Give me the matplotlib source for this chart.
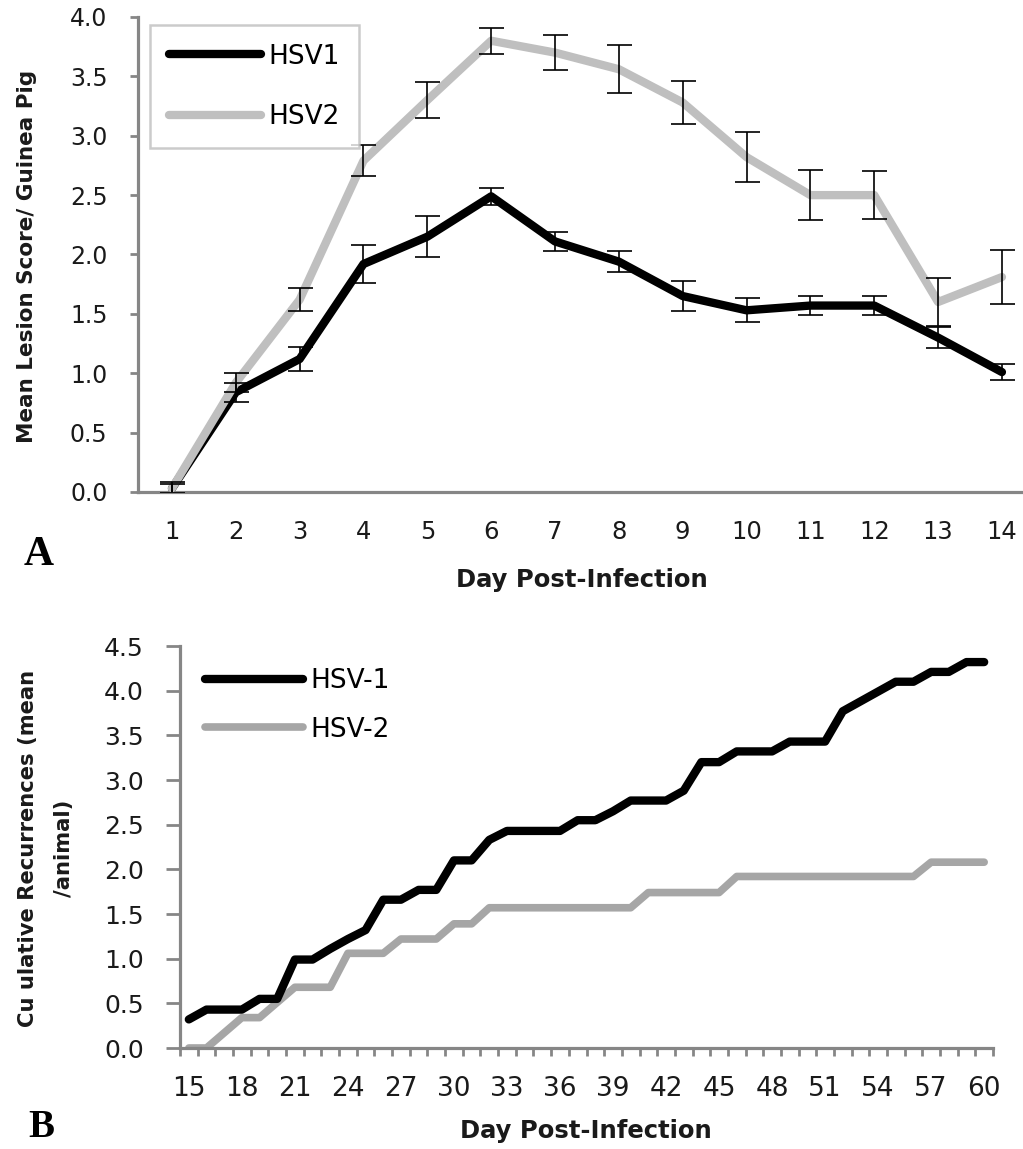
import matplotlib
matplotlib.use('Agg')
import matplotlib.pyplot as plt
from matplotlib.lines import Line2D
from matplotlib.ticker import MultipleLocator

# -----------------------------
# Data: panel A (acute disease)
# -----------------------------
days_a = list(range(1, 15))
hsv1_score = [0.03, 0.84, 1.12, 1.92, 2.15, 2.49, 2.11, 1.94, 1.65, 1.53, 1.57, 1.57, 1.30, 1.01]
hsv1_err = [0.05, 0.08, 0.10, 0.16, 0.17, 0.07, 0.08, 0.09, 0.13, 0.10, 0.08, 0.08, 0.09, 0.07]
hsv2_score = [0.03, 0.92, 1.62, 2.79, 3.30, 3.80, 3.70, 3.56, 3.28, 2.82, 2.50, 2.50, 1.60, 1.81]
hsv2_err = [0.04, 0.08, 0.10, 0.13, 0.15, 0.11, 0.15, 0.20, 0.18, 0.21, 0.21, 0.20, 0.20, 0.23]

# -----------------------------
# Data: panel B (cumulative recurrences)
# -----------------------------
days_b = list(range(15, 61))
hsv1_cum = [0.32, 0.43, 0.43, 0.43, 0.55, 0.55, 0.99, 0.99, 1.11, 1.22,
            1.32, 1.66, 1.66, 1.77, 1.77, 2.10, 2.10, 2.33, 2.43, 2.43,
            2.43, 2.43, 2.55, 2.55, 2.65, 2.77, 2.77, 2.77, 2.88, 3.20,
            3.20, 3.32, 3.32, 3.32, 3.43, 3.43, 3.43, 3.77, 3.88, 3.99,
            4.10, 4.10, 4.21, 4.21, 4.32, 4.32]
hsv2_cum = [0.00, 0.00, 0.17, 0.34, 0.34, 0.51, 0.68, 0.68, 0.68, 1.06,
            1.06, 1.06, 1.22, 1.22, 1.22, 1.39, 1.39, 1.57, 1.57, 1.57,
            1.57, 1.57, 1.57, 1.57, 1.57, 1.57, 1.74, 1.74, 1.74, 1.74,
            1.74, 1.92, 1.92, 1.92, 1.92, 1.92, 1.92, 1.92, 1.92, 1.92,
            1.92, 1.92, 2.08, 2.08, 2.08, 2.08]
b_tick_days = list(range(15, 61, 3))

# -----------------------------
# Styles
# -----------------------------
axis_gray = '#868686'
gray_a = '#BFBFBF'
gray_b = '#A6A6A6'
W, H = 1023, 1149

fig = plt.figure(figsize=(W / 100, H / 100), dpi=100, facecolor='white')


def px_box(left, top, right, bottom):
    return [left / W, 1 - bottom / H, (right - left) / W, (bottom - top) / H]


def style_axes(ax):
    for side in ['top', 'right']:
        ax.spines[side].set_visible(False)
    for side in ['left', 'bottom']:
        ax.spines[side].set_color(axis_gray)
        ax.spines[side].set_linewidth(2.3)


# -----------------------------
# Panel A
# -----------------------------
ax_a = fig.add_axes(px_box(138, 17, 1023, 492))
style_axes(ax_a)
ax_a.plot(days_a, hsv1_score, color='black', lw=6, solid_joinstyle='round',
          solid_capstyle='round', zorder=3)
ax_a.plot(days_a, hsv2_score, color=gray_a, lw=6, solid_joinstyle='round',
          solid_capstyle='round', zorder=3)
ax_a.errorbar(days_a, hsv1_score, yerr=hsv1_err, fmt='none', ecolor='black',
              elinewidth=1.2, capsize=9, capthick=1.2, zorder=4)
ax_a.errorbar(days_a, hsv2_score, yerr=hsv2_err, fmt='none', ecolor='black',
              elinewidth=1.2, capsize=9, capthick=1.2, zorder=4)
ax_a.set_xlim(0.468, 14.33)
ax_a.set_ylim(0, 4.0)
ax_a.set_xticks(days_a)
ax_a.yaxis.set_major_locator(MultipleLocator(0.5))
ax_a.set_yticklabels([f'{v:.1f}' for v in ax_a.get_yticks()])
ax_a.tick_params(axis='x', length=0, pad=20, labelsize=17.5, colors='#1a1a1a')
ax_a.tick_params(axis='y', length=6, width=2, color=axis_gray, pad=16,
                 labelsize=17, labelcolor='#1a1a1a')

leg_a = ax_a.legend(
    [Line2D([], [], color='black', lw=6, solid_capstyle='round'),
     Line2D([], [], color=gray_a, lw=6, solid_capstyle='round')],
    ['HSV1', 'HSV2'], loc='upper left', bbox_to_anchor=(0.0136, 0.983),
    borderaxespad=0, frameon=True, fancybox=False, edgecolor='#BFBFBF',
    handlelength=3.5, handletextpad=0.3, labelspacing=1.3, borderpad=0.7,
    prop={'family': 'DejaVu Sans', 'size': 19})
leg_a.get_frame().set_linewidth(1.8)

# -----------------------------
# Panel B
# -----------------------------
ax_b = fig.add_axes(px_box(180, 646, 993, 1048))
style_axes(ax_b)
ax_b.plot(days_b, hsv1_cum, color='black', lw=6, solid_joinstyle='round',
          solid_capstyle='round', zorder=3, label='HSV-1')
ax_b.plot(days_b, hsv2_cum, color=gray_b, lw=5.5, solid_joinstyle='round',
          solid_capstyle='round', zorder=2, label='HSV-2')
ax_b.set_xlim(14.5, 60.5)
ax_b.set_ylim(0, 4.5)
ax_b.set_xticks(b_tick_days)
ax_b.set_xticks([d - 0.5 for d in days_b] + [days_b[-1] + 0.5], minor=True)
ax_b.yaxis.set_major_locator(MultipleLocator(0.5))
ax_b.set_yticklabels([f'{v:.1f}' for v in ax_b.get_yticks()])
ax_b.tick_params(axis='x', which='major', length=0, pad=20, labelsize=19,
                 colors='#1a1a1a')
ax_b.tick_params(axis='x', which='minor', length=6, width=2, color=axis_gray)
ax_b.tick_params(axis='y', length=10, width=2, color=axis_gray, pad=16,
                 labelsize=18, labelcolor='#1a1a1a')
ax_b.legend(loc='upper left', bbox_to_anchor=(0.031, 0.945), borderaxespad=0,
            frameon=False, handlelength=3.7, handletextpad=0.3,
            labelspacing=0.85, borderpad=0,
            prop={'family': 'DejaVu Sans', 'size': 19})

# -----------------------------
# Labels
# -----------------------------
label_font = {'family': 'DejaVu Sans', 'weight': 'bold', 'color': '#1a1a1a'}
fig.text(582 / W, 1 - 587 / H, 'Day Post-Infection', ha='center',
         va='baseline', fontsize=17.5, **label_font)
fig.text(586 / W, 1 - 1138 / H, 'Day Post-Infection', ha='center',
         va='baseline', fontsize=17.5, **label_font)
fig.text(27 / W, 1 - 256 / H, 'Mean Lesion Score/ Guinea Pig', rotation=90,
         ha='center', va='center', fontsize=15.5, **label_font)
fig.text(46 / W, 1 - 848 / H, 'Cu ulative Recurrences (mean\n/animal)',
         rotation=90, ha='center', va='center', multialignment='center',
         linespacing=2.0, fontsize=15.2, **label_font)

fig.text(24 / W, 1 - 565 / H, 'A', ha='left', va='baseline', fontsize=30,
         family='Liberation Serif', weight='bold')
fig.text(28 / W, 1 - 1137 / H, 'B', ha='left', va='baseline', fontsize=28,
         family='Liberation Serif', weight='bold')

fig.savefig('out.png', dpi=100, facecolor='white')
